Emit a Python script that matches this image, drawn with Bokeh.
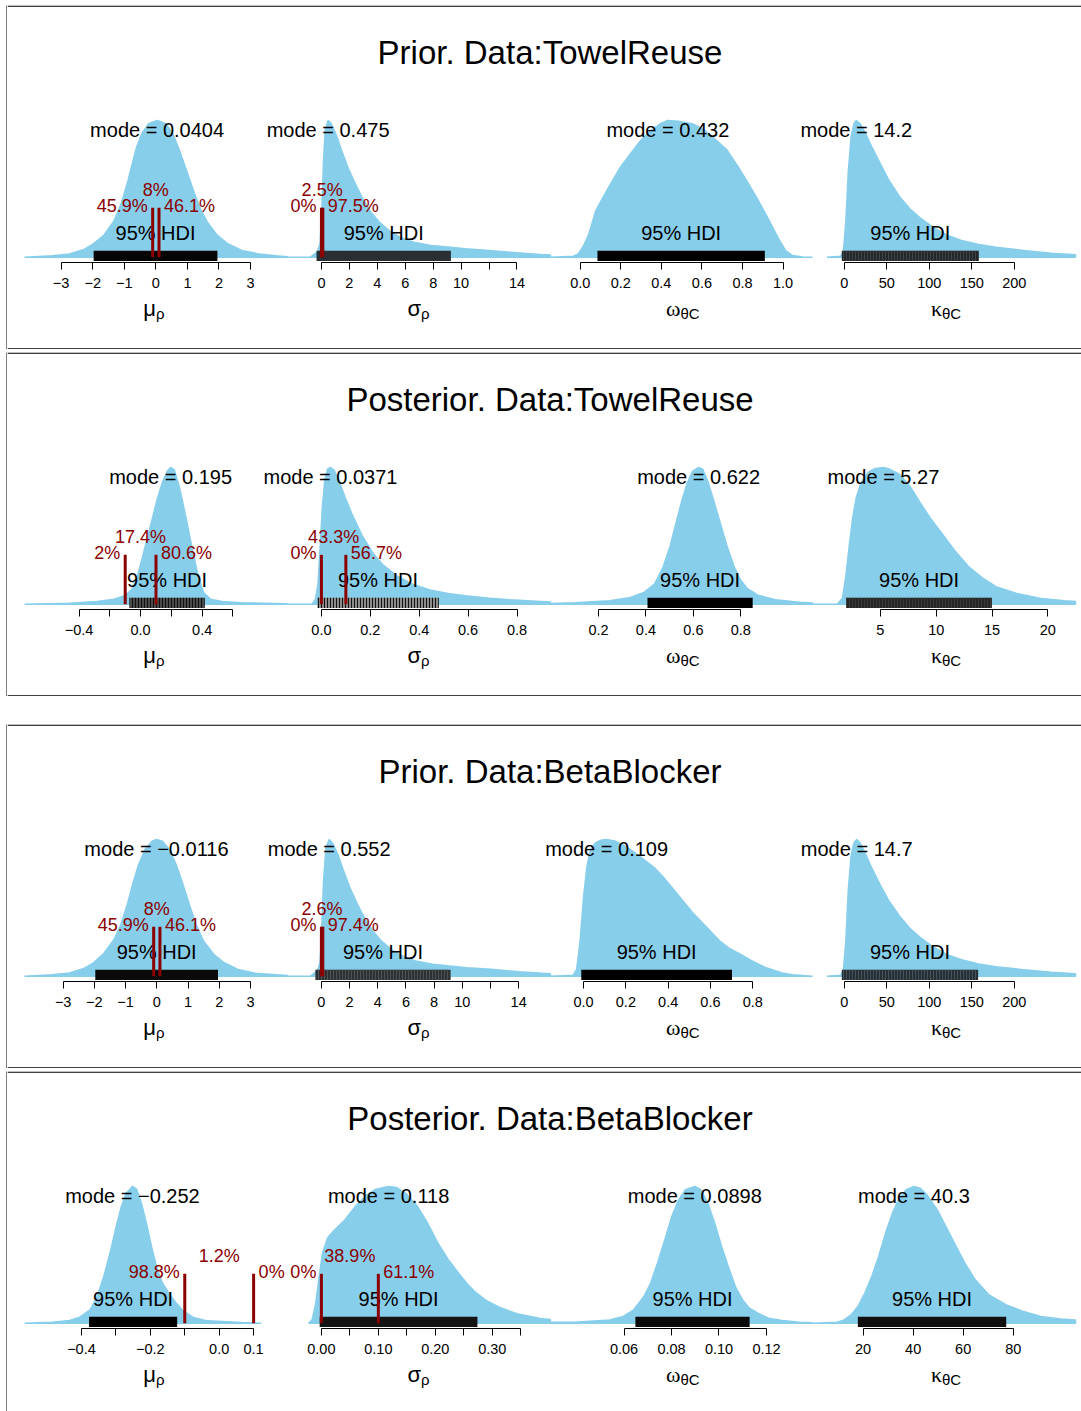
from bokeh.plotting import figure
from bokeh.layouts import column, row
from bokeh.models import Range1d, FixedTicker, Spacer
from bokeh.core.properties import value
from bokeh.embed import file_html
from bokeh.resources import INLINE

# ---------------------------------------------------------------- data
TITLES = ["Prior. Data:TowelReuse", "Posterior. Data:TowelReuse",
          "Prior. Data:BetaBlocker", "Posterior. Data:BetaBlocker"]
PARAMS = [("μ", "ρ"), ("σ", "ρ"), ("ω", "θC"), ("κ", "θC")]

# density curves: parameter value and height relative to the mode (peak = 1)
p1_mu_x = [-4.16, -3.28, -2.74, -2.30, -1.98, -1.65, -1.32, -1.10, -0.88, -0.72, -0.61, -0.45, -0.23, 0.04,
           0.32, 0.54, 0.75, 0.97, 1.19, 1.41, 1.63, 1.95, 2.28, 2.72, 3.26, 3.81, 4.17]
p1_mu_h = [0.0, 0.01, 0.024, 0.054, 0.098, 0.159, 0.268, 0.39, 0.561, 0.707, 0.805, 0.902, 0.976, 1.0,
           0.976, 0.902, 0.78, 0.634, 0.488, 0.354, 0.256, 0.159, 0.098, 0.049, 0.024, 0.01, 0.004]
p1_sigma_x = [-2.43, -0.79, -0.54, -0.30, -0.10, 0.03, 0.15, 0.27, 0.475, 0.69, 1.06, 1.43, 1.92, 2.42, 2.91,
              3.53, 4.14, 4.88, 5.62, 6.61, 7.84, 9.07, 10.3, 12.0, 14.0, 15.7, 16.4]
p1_sigma_h = [0.0, 0.0, 0.02, 0.037, 0.098, 0.343, 0.711, 0.931, 1.0, 0.98, 0.895, 0.784, 0.65, 0.539, 0.436,
              0.331, 0.257, 0.191, 0.147, 0.11, 0.086, 0.074, 0.061, 0.049, 0.032, 0.02, 0.016]
p1_omega_x = [-0.146, -0.034, -0.009, 0.017, 0.043, 0.077, 0.111, 0.145, 0.196, 0.247, 0.298, 0.349, 0.40, 0.432,
              0.485, 0.553, 0.604, 0.672, 0.723, 0.774, 0.825, 0.876, 0.927, 0.978, 1.012, 1.046, 1.097, 1.145]
p1_omega_h = [0.0, 0.007, 0.024, 0.085, 0.171, 0.341, 0.434, 0.524, 0.654, 0.756, 0.854, 0.927, 0.98, 1.0,
              0.995, 0.976, 0.939, 0.854, 0.785, 0.671, 0.549, 0.42, 0.28, 0.134, 0.049, 0.012, 0.002, 0.0]
p1_kappa_x = [-20.3, -4.1, -0.8, 2.0, 4.9, 8.1, 11.4, 14.2, 18.3, 24.3, 32.5, 42.6, 52.7, 64.9, 77.1, 89.2,
              105.5, 121.7, 137.9, 158.2, 178.5, 211.0, 243.4, 272.0]
p1_kappa_h = [0.0, 0.007, 0.049, 0.268, 0.634, 0.878, 0.976, 1.0, 0.98, 0.915, 0.805, 0.683, 0.561, 0.444,
              0.354, 0.288, 0.215, 0.159, 0.122, 0.093, 0.073, 0.049, 0.029, 0.018]

p2_mu_x = [-0.754, -0.463, -0.284, -0.172, -0.105, -0.060, -0.027, 0.007, 0.040, 0.074, 0.107, 0.141, 0.174,
           0.195, 0.219, 0.253, 0.298, 0.342, 0.376, 0.409, 0.454, 0.544, 0.655, 0.879, 0.954]
p2_mu_h = [0.0, 0.007, 0.02, 0.037, 0.062, 0.104, 0.185, 0.321, 0.469, 0.617, 0.765, 0.889, 0.975,
           1.0, 0.983, 0.852, 0.617, 0.37, 0.198, 0.086, 0.037, 0.017, 0.01, 0.005, 0.003]
p2_sigma_x = [-0.138, -0.038, -0.024, -0.014, -0.006, 0.004, 0.014, 0.025, 0.0371, 0.051, 0.068, 0.096, 0.124,
              0.166, 0.208, 0.25, 0.307, 0.377, 0.448, 0.518, 0.589, 0.687, 0.772, 0.896, 0.937]
p2_sigma_h = [0.0, 0.0, 0.037, 0.147, 0.393, 0.713, 0.909, 0.988, 1.0, 0.983, 0.921, 0.786, 0.663,
              0.504, 0.381, 0.29, 0.209, 0.143, 0.103, 0.079, 0.061, 0.044, 0.032, 0.02, 0.016]
p2_omega_x = [-0.002, 0.101, 0.247, 0.334, 0.392, 0.436, 0.472, 0.501, 0.53, 0.552, 0.574, 0.596, 0.622, 0.639,
              0.661, 0.683, 0.712, 0.741, 0.77, 0.799, 0.828, 0.872, 0.945, 1.047, 1.102]
p2_omega_h = [0.005, 0.01, 0.025, 0.049, 0.086, 0.147, 0.27, 0.418, 0.614, 0.762, 0.885, 0.971, 1.0, 0.988,
              0.897, 0.774, 0.602, 0.43, 0.283, 0.177, 0.113, 0.066, 0.032, 0.015, 0.009]
p2_kappa_x = [-1.08, 1.13, 1.60, 1.91, 2.22, 2.53, 2.84, 3.30, 3.92, 4.54, 5.27, 5.77, 6.70, 7.63, 8.56, 9.49,
              10.41, 11.65, 12.89, 14.13, 15.36, 17.22, 19.38, 21.5, 22.48]
p2_kappa_h = [0.0, 0.0, 0.044, 0.209, 0.437, 0.639, 0.781, 0.897, 0.966, 0.993, 1.0, 0.99, 0.951, 0.865, 0.742,
              0.627, 0.528, 0.393, 0.275, 0.192, 0.128, 0.079, 0.042, 0.025, 0.02]

p3_mu_x = [-4.24, -3.35, -2.80, -2.36, -2.03, -1.70, -1.37, -1.15, -0.93, -0.76, -0.60, -0.38, -0.15, -0.0116,
           0.18, 0.40, 0.62, 0.84, 1.06, 1.28, 1.50, 1.83, 2.16, 2.60, 3.15, 3.82, 4.19]
p3_mu_h = [0.0, 0.01, 0.024, 0.054, 0.098, 0.166, 0.268, 0.378, 0.537, 0.683, 0.805, 0.927, 0.988, 1.0,
           0.988, 0.927, 0.817, 0.671, 0.512, 0.366, 0.256, 0.159, 0.098, 0.049, 0.022, 0.01, 0.005]
p3_sigma_x = [-2.41, -0.78, -0.54, -0.29, -0.10, 0.02, 0.15, 0.32, 0.552, 0.81, 1.17, 1.54, 2.03, 2.52, 3.01,
              3.62, 4.23, 4.96, 5.69, 6.67, 7.89, 9.11, 10.33, 12.04, 14.0, 15.71, 16.26]
p3_sigma_h = [0.0, 0.0, 0.02, 0.037, 0.098, 0.33, 0.69, 0.94, 1.0, 0.97, 0.89, 0.78, 0.645, 0.535, 0.435,
              0.335, 0.26, 0.195, 0.15, 0.112, 0.088, 0.074, 0.062, 0.05, 0.033, 0.021, 0.018]
p3_omega_x = [-0.157, -0.049, -0.033, -0.016, 0.0, 0.016, 0.033, 0.057, 0.082, 0.109, 0.147, 0.204, 0.269,
              0.335, 0.384, 0.449, 0.514, 0.58, 0.645, 0.686, 0.743, 0.792, 0.857, 0.939, 0.988, 1.083]
p3_omega_h = [0.0, 0.007, 0.049, 0.268, 0.585, 0.805, 0.927, 0.976, 0.995, 1.0, 0.99, 0.946, 0.873,
              0.793, 0.712, 0.59, 0.468, 0.361, 0.256, 0.207, 0.159, 0.115, 0.066, 0.024, 0.01, 0.0]
p3_kappa_x = [-20.3, -4.1, -0.8, 2.0, 4.9, 8.1, 11.4, 14.7, 18.7, 24.3, 32.5, 42.6, 52.7, 64.9, 77.1, 89.2,
              105.5, 121.7, 137.9, 158.2, 178.5, 211.0, 243.4, 272.0]
p3_kappa_h = [0.0, 0.007, 0.05, 0.27, 0.64, 0.88, 0.975, 1.0, 0.975, 0.905, 0.79, 0.665, 0.55, 0.44, 0.35,
              0.285, 0.21, 0.155, 0.12, 0.09, 0.07, 0.047, 0.028, 0.018]

p4_mu_x = [-0.565, -0.485, -0.435, -0.405, -0.375, -0.355, -0.335, -0.315, -0.300, -0.285, -0.270, -0.252,
           -0.240, -0.225, -0.210, -0.195, -0.180, -0.165, -0.145, -0.125, -0.105, -0.075, -0.035, 0.065, 0.122]
p4_mu_h = [0.0, 0.007, 0.02, 0.044, 0.098, 0.191, 0.343, 0.534, 0.699, 0.846, 0.951, 1.0,
           0.98, 0.87, 0.716, 0.544, 0.397, 0.294, 0.216, 0.147, 0.091, 0.042, 0.017, 0.005, 0.0]
p4_sigma_x = [-0.0224, -0.0163, -0.0103, -0.0042, 0.0018, 0.0109, 0.023, 0.0411, 0.0593, 0.0774, 0.0955, 0.118,
              0.1318, 0.15, 0.1681, 0.1862, 0.2044, 0.2225, 0.2406, 0.2588, 0.2709, 0.289, 0.3132, 0.3434,
              0.3845, 0.402]
p4_sigma_h = [0.0, 0.025, 0.135, 0.331, 0.51, 0.625, 0.681, 0.755, 0.853, 0.931, 0.98, 1.0,
              0.993, 0.944, 0.858, 0.735, 0.588, 0.466, 0.368, 0.275, 0.225, 0.167, 0.115, 0.069, 0.034, 0.027]
p4_omega_x = [0.0291, 0.0394, 0.0539, 0.0597, 0.0641, 0.0684, 0.0713, 0.0742, 0.0772, 0.0801, 0.083, 0.0859,
              0.0898, 0.0924, 0.0953, 0.0982, 0.1011, 0.104, 0.1069, 0.1099, 0.1128, 0.1164, 0.1208, 0.1266,
              0.1338, 0.1393]
p4_omega_h = [0.007, 0.007, 0.024, 0.049, 0.098, 0.195, 0.298, 0.444, 0.61, 0.78, 0.902, 0.976,
              1.0, 0.976, 0.878, 0.732, 0.561, 0.41, 0.268, 0.171, 0.11, 0.073, 0.037, 0.02, 0.007, 0.003]
p4_kappa_x = [-0.2, 9.66, 12.41, 15.17, 17.93, 20.69, 23.45, 26.21, 28.97, 31.72, 34.48, 37.24, 40.3, 42.76,
              45.52, 49.66, 53.79, 56.55, 60.69, 64.83, 70.34, 77.24, 84.14, 91.03, 99.0, 104.9]
p4_kappa_h = [0.0, 0.007, 0.024, 0.061, 0.122, 0.22, 0.341, 0.488, 0.659, 0.805, 0.915, 0.976, 1.0, 0.988,
              0.939, 0.829, 0.683, 0.585, 0.439, 0.317, 0.207, 0.134, 0.085, 0.049, 0.03, 0.024]

DENS_X = [[p1_mu_x, p1_sigma_x, p1_omega_x, p1_kappa_x],
          [p2_mu_x, p2_sigma_x, p2_omega_x, p2_kappa_x],
          [p3_mu_x, p3_sigma_x, p3_omega_x, p3_kappa_x],
          [p4_mu_x, p4_sigma_x, p4_omega_x, p4_kappa_x]]
DENS_H = [[p1_mu_h, p1_sigma_h, p1_omega_h, p1_kappa_h],
          [p2_mu_h, p2_sigma_h, p2_omega_h, p2_kappa_h],
          [p3_mu_h, p3_sigma_h, p3_omega_h, p3_kappa_h],
          [p4_mu_h, p4_sigma_h, p4_omega_h, p4_kappa_h]]

MODES = [[0.0404, 0.475, 0.432, 14.2],
         [0.195, 0.0371, 0.622, 5.27],
         [-0.0116, 0.552, 0.109, 14.7],
         [-0.252, 0.118, 0.0898, 40.3]]

HDI = [[(-1.97, 1.95), (-0.35, 9.27), (0.085, 0.91), (-2.8, 158.2)],
       [(-0.072, 0.416), (-0.017, 0.48), (0.4066, 0.850), (1.94, 14.99)],
       [(-1.97, 1.96), (-0.415, 9.16), (-0.011, 0.702), (-2.8, 157.4)],
       [(-0.378, -0.122), (-0.003, 0.274), (0.0648, 0.1129), (17.9, 77.2)]]

# comparison intervals (mu and sigma only) with % below / inside / above
ROPE = [[(-0.1, 0.1), (0.0, 0.1), None, None]] * 4
PCTS = [[(45.9, 8, 46.1), (0, 2.5, 97.5)],
        [(2, 17.4, 80.6), (0, 43.3, 56.7)],
        [(45.9, 8, 46.1), (0, 2.6, 97.4)],
        [(98.8, 1.2, 0), (0, 38.9, 61.1)]]

TICKS = [[[-3, -2, -1, 0, 1, 2, 3], [0, 2, 4, 6, 8, 10, 12, 14], [0.0, 0.2, 0.4, 0.6, 0.8, 1.0], [0, 50, 100, 150, 200]],
         [[-0.4, -0.2, 0.0, 0.2, 0.4, 0.6], [0.0, 0.2, 0.4, 0.6, 0.8], [0.2, 0.4, 0.6, 0.8], [5, 10, 15, 20]],
         [[-3, -2, -1, 0, 1, 2, 3], [0, 2, 4, 6, 8, 10, 12, 14], [0.0, 0.2, 0.4, 0.6, 0.8], [0, 50, 100, 150, 200]],
         [[-0.4, -0.3, -0.2, -0.1, 0.0, 0.1], [0.0, 0.05, 0.1, 0.15, 0.2, 0.25, 0.3, 0.35],
          [0.06, 0.08, 0.10, 0.12], [20, 40, 60, 80]]]
TICK_LABELS = [[["−3", "−2", "−1", "0", "1", "2", "3"], ["0", "2", "4", "6", "8", "10", "", "14"],
                ["0.0", "0.2", "0.4", "0.6", "0.8", "1.0"], ["0", "50", "100", "150", "200"]],
               [["−0.4", "", "0.0", "", "0.4", ""], ["0.0", "0.2", "0.4", "0.6", "0.8"],
                ["0.2", "0.4", "0.6", "0.8"], ["5", "10", "15", "20"]],
               [["−3", "−2", "−1", "0", "1", "2", "3"], ["0", "2", "4", "6", "8", "10", "", "14"],
                ["0.0", "0.2", "0.4", "0.6", "0.8"], ["0", "50", "100", "150", "200"]],
               [["−0.4", "", "−0.2", "", "0.0", "0.1"], ["0.00", "", "0.10", "", "0.20", "", "0.30", ""],
                ["0.06", "0.08", "0.10", "0.12"], ["20", "40", "60", "80"]]]

# ---------------------------------------------------------------- layout / style
SKY = "#87CEEB"
DARKRED = "#8B0000"
SANS = "Liberation Sans"
SERIF = "Liberation Serif"

BORDER_X = 6                                  # page x of the left edge of each panel box
BODY_X0, BODY_X1 = 7, 1081                    # page x span of a panel's contents
FRAME_EDGES = [24, 287, 550, 812, 1075]       # page x of the four plot regions
X_RANGES = [[(-4.16, 4.17), (-2.43, 16.40), (-0.1464, 1.1449), (-37.27, 271.96)],
            [(-0.7544, 0.9545), (-0.1387, 0.937), (-0.00236, 1.1022), (-1.084, 22.48)],
            [(-4.238, 4.186), (-2.406, 16.26), (-0.1566, 1.0828), (-37.27, 271.96)],
            [(-0.5655, 0.1984), (-0.0595, 0.4023), (0.02905, 0.13937), (-0.224, 104.9)]]
Y_RANGE = (-0.0315, 1.1463)
TITLE_H, DENS_H_PX, AXIS_H = 95, 161, 33
HDI_FILL = [["#050505", "#2a2f33", "#000000", "#24282a"],
            ["#4a4a4a", "#8c8c8c", "#000000", "#262626"],
            ["#0a0a0a", "#2e3235", "#000000", "#263034"],
            ["#000000", "#141414", "#0a0a0a", "#101010"]]
HDI_HATCH = [[None, None, None, "#3e4448"],
             ["#111111", "#111111", None, "#3a3a3a"],
             [None, "#4e5255", None, "#46525a"],
             [None, None, None, None]]
MAIN_FONT = [SANS, SANS, SERIF, SERIF]
LABEL_DX = [0, 2, -1, -2]

BASE = dict(toolbar_location=None, tools="", output_backend="svg", min_border=0, outline_line_color=None)


def fmt_num(v):
    return f"{v:.3g}".replace("-", "−")


def fmt_pct(v):
    return f"{v:g}%"


def txt(p, x, y, s, size, color="black", align="center", font=SANS, x_offset=0, rng="default"):
    p.text(x=[x], y=[y], text=[s], text_font=value(font), text_font_size=value(size),
           text_color=color, text_align=align, text_baseline="middle", x_offset=x_offset,
           x_range_name=rng)


def solid(w, h, color="black"):
    p = figure(width=w, height=h, x_axis_location=None, y_axis_location=None,
               **dict(BASE, background_fill_color=color, border_fill_color=color))
    p.grid.visible = False
    return p


def strip(h):
    """Full-width drawing area in page pixels (y counted downwards)."""
    p = figure(width=BODY_X1 - BODY_X0, height=h, x_range=Range1d(BODY_X0, BODY_X1),
               y_range=Range1d(h, 0), x_axis_location=None, y_axis_location=None, **BASE)
    p.grid.visible = False
    return p


def density_area(k):
    """One canvas for the four densities of a panel; each has its own x scale."""
    p = figure(width=BODY_X1 - BODY_X0, height=DENS_H_PX, x_range=Range1d(BODY_X0, BODY_X1),
               y_range=Range1d(*Y_RANGE), x_axis_location=None, y_axis_location=None, **BASE)
    p.grid.visible = False
    names = []
    for j in range(4):
        lo, hi = X_RANGES[k][j]
        L, R = FRAME_EDGES[j], FRAME_EDGES[j + 1]
        scale = (R - L) / (hi - lo)
        name = f"s{j}"
        p.extra_x_ranges[name] = Range1d(lo - (L - BODY_X0) / scale, hi + (BODY_X1 - R) / scale)
        names.append(name)

    for j, name in enumerate(names):
        xs, hs = DENS_X[k][j], DENS_H[k][j]
        p.patch(xs + xs[::-1], hs + [0.0] * len(xs), fill_color=SKY, line_color=SKY, line_width=1.5,
                x_range_name=name)
    for j, name in enumerate(names):
        lo, hi = HDI[k][j]
        bar = dict(fill_color=HDI_FILL[k][j], line_color=None)
        if HDI_HATCH[k][j]:
            bar.update(hatch_pattern="vertical_line", hatch_color=HDI_HATCH[k][j],
                       hatch_scale=3.0, hatch_weight=1.0)
        p.quad(left=[lo], right=[hi], bottom=[-0.045], top=[0.048], x_range_name=name, **bar)
        txt(p, (lo + hi) / 2, 0.176, "95% HDI", "20px", rng=name)
        txt(p, MODES[k][j], 0.932, "mode = " + fmt_num(MODES[k][j]), "20px", rng=name)
    for j, name in enumerate(names):
        if not ROPE[k][j]:
            continue
        r0, r1 = ROPE[k][j]
        p.segment(x0=[r0, r1], y0=[0, 0], x1=[r0, r1], y1=[0.361, 0.361], line_color=DARKRED,
                  line_width=3, x_range_name=name)
        lt, inside, gt = PCTS[k][j]
        txt(p, r0, 0.373, fmt_pct(lt), "18px", DARKRED, "right", x_offset=-5, rng=name)
        txt(p, (r0 + r1) / 2, 0.488, fmt_pct(inside), "18px", DARKRED, "center", rng=name)
        txt(p, r1, 0.373, fmt_pct(gt), "18px", DARKRED, "left", x_offset=5, rng=name)
    return p


def axis_plot(k, j):
    w = FRAME_EDGES[j + 1] - FRAME_EDGES[j]
    p = figure(width=w, height=AXIS_H, x_range=Range1d(*X_RANGES[k][j]), y_range=Range1d(0, 1),
               y_axis_location=None, **dict(BASE, min_border_bottom=AXIS_H - 1))
    p.xgrid.visible = False
    p.ygrid.visible = False
    ticks = TICKS[k][j]
    ax = p.xaxis[0]
    ax.ticker = FixedTicker(ticks=ticks, minor_ticks=[])
    ax.major_label_overrides = {t: s for t, s in zip(ticks, TICK_LABELS[k][j])}
    ax.bounds = (ticks[0], ticks[-1])
    ax.axis_line_color = "black"
    ax.major_tick_line_color = "black"
    ax.minor_tick_line_color = None
    ax.major_tick_in = 0
    ax.major_tick_out = 7
    ax.major_label_standoff = 8
    ax.major_label_text_font = SANS
    ax.major_label_text_font_size = "14.5px"
    ax.major_label_text_color = "black"
    return p


def panel(k, label_h, bottom_border):
    title = strip(TITLE_H)
    title.quad(left=[BODY_X0], right=[BODY_X1], bottom=[1.2], top=[0], fill_color="black", line_color=None)
    txt(title, 549.5, 47, TITLES[k], "33px")

    axes = row(Spacer(width=FRAME_EDGES[0] - BODY_X0, height=AXIS_H),
               *[axis_plot(k, j) for j in range(4)],
               Spacer(width=BODY_X1 - FRAME_EDGES[-1], height=AXIS_H))

    labels = strip(label_h)
    if bottom_border:
        labels.quad(left=[BODY_X0], right=[BODY_X1], bottom=[label_h], top=[label_h - 1.2],
                    fill_color="black", line_color=None)
    for j, (main, sub) in enumerate(PARAMS):
        cx = (FRAME_EDGES[j] + FRAME_EDGES[j + 1]) / 2 + LABEL_DX[j]
        txt(labels, cx, 14, main, "22px", align="right", font=MAIN_FONT[j])
        txt(labels, cx, 18.5, sub, "15px", align="left", font=SANS)

    body = column(title, density_area(k), axes, labels)
    height = TITLE_H + DENS_H_PX + AXIS_H + label_h
    return row(Spacer(width=BORDER_X, height=height), solid(1, height), body)


page = column(
    Spacer(width=1081, height=5),
    panel(0, 55, True),
    Spacer(width=1081, height=3),
    panel(1, 55, True),
    Spacer(width=1081, height=28),
    panel(2, 55, True),
    Spacer(width=1081, height=3),
    panel(3, 51, False),
)

open("out.html", "w").write(file_html(page, INLINE))
